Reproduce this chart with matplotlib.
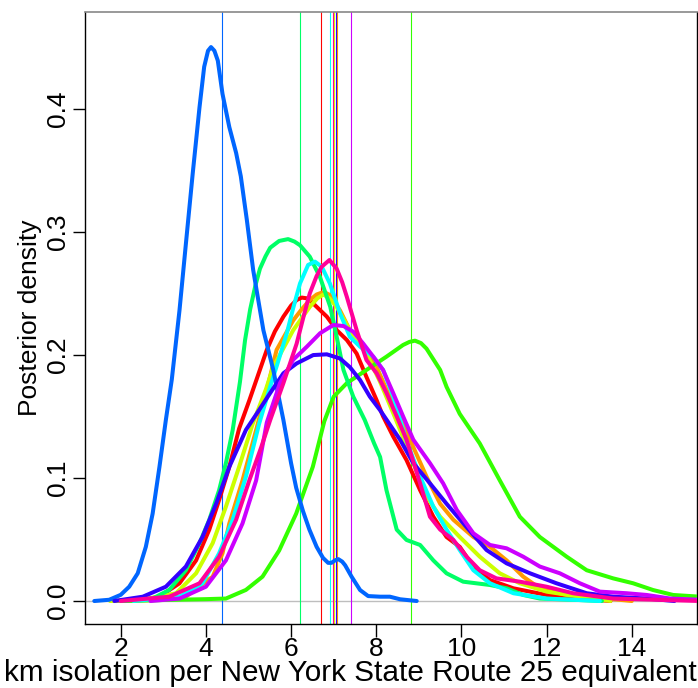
import matplotlib
matplotlib.use("Agg")
import matplotlib.pyplot as plt

plt.rcParams['font.family'] = ['Liberation Sans', 'DejaVu Sans']

# colours: R rainbow(10)
colors = ["#FF0000", "#FF9900", "#CCFF00", "#33FF00", "#00FF66",
          "#00FFFF", "#0066FF", "#3300FF", "#CC00FF", "#FF0099"]

red_x = [1.9, 2.5, 2.91, 3.38, 3.77, 4.08, 4.31, 4.55, 4.78, 5.02, 5.2, 5.43, 5.62, 5.82, 6.0, 6.13, 6.25, 6.37, 6.48, 6.60, 6.84, 7.07, 7.31, 7.54, 7.77, 8.01, 8.16, 8.40, 8.71, 9.03, 9.34, 9.65, 9.96, 10.28, 10.67, 11.22, 12.0, 12.78, 13.5]
red_y = [0.0, 0.0008, 0.0035, 0.0144, 0.033, 0.058, 0.082, 0.109, 0.140, 0.163, 0.181, 0.204, 0.219, 0.231, 0.240, 0.2445, 0.2465, 0.2459, 0.243, 0.239, 0.231, 0.2201, 0.212, 0.201, 0.182, 0.163, 0.150, 0.1335, 0.1145, 0.090, 0.0685, 0.052, 0.044, 0.028, 0.017, 0.0103, 0.0049, 0.002, 0.0]

orange_x = [1.9, 3.0, 3.53, 4.16, 4.39, 4.55, 4.86, 5.18, 5.49, 5.66, 6.05, 6.25, 6.44, 6.60, 6.72, 6.82, 6.91, 7.15, 7.38, 7.69, 8.01, 8.24, 8.56, 8.87, 9.18, 9.50, 9.81, 10.28, 10.67, 11.06, 11.45, 11.84, 12.47, 13.41, 14.0]
orange_y = [0.0, 0.001, 0.0035, 0.0198, 0.0387, 0.063, 0.098, 0.139, 0.18, 0.204, 0.228, 0.237, 0.2445, 0.249, 0.2505, 0.2502, 0.2486, 0.236, 0.220, 0.2066, 0.190, 0.172, 0.1497, 0.125, 0.101, 0.079, 0.066, 0.052, 0.044, 0.033, 0.0198, 0.0103, 0.0049, 0.002, 0.0]

yellow_x = [1.75, 2.5, 3.30, 3.77, 4.16, 4.47, 4.78, 5.10, 5.41, 5.58, 6.05, 6.44, 6.62, 6.76, 6.90, 7.07, 7.38, 7.77, 8.09, 8.40, 8.56, 8.87, 9.18, 9.50, 9.96, 10.43, 10.90, 11.37, 12.0, 12.78, 13.5]
yellow_y = [0.0, 0.001, 0.0063, 0.0225, 0.047, 0.0766, 0.109, 0.144, 0.172, 0.19, 0.22, 0.239, 0.246, 0.249, 0.246, 0.239, 0.220, 0.201, 0.178, 0.1525, 0.139, 0.112, 0.085, 0.0685, 0.052, 0.036, 0.0225, 0.0144, 0.0076, 0.0035, 0.0]

green_x = [2.1, 3.0, 4.0, 4.47, 4.94, 5.33, 5.72, 6.12, 6.51, 6.78, 7.0, 7.31, 7.77, 8.24, 8.63, 8.78, 8.91, 9.05, 9.18, 9.50, 9.65, 9.96, 10.43, 10.90, 11.37, 11.84, 12.47, 12.94, 13.56, 14.03, 14.50, 14.97, 15.6]
green_y = [0.0, 0.0008, 0.0015, 0.002, 0.009, 0.0198, 0.041, 0.071, 0.109, 0.146, 0.166, 0.177, 0.1877, 0.1985, 0.208, 0.2105, 0.2115, 0.2095, 0.205, 0.1877, 0.174, 0.152, 0.128, 0.098, 0.0685, 0.052, 0.036, 0.025, 0.0184, 0.0144, 0.0089, 0.0049, 0.0035]

spring_x = [2.0, 2.75, 3.14, 3.53, 3.85, 4.08, 4.31, 4.47, 4.63, 4.80, 4.92, 5.04, 5.16, 5.27, 5.40, 5.51, 5.72, 5.93, 6.08, 6.21, 6.44, 6.68, 6.92, 7.07, 7.23, 7.46, 7.73, 7.95, 8.09, 8.24, 8.48, 8.71, 9.03, 9.34, 9.65, 10.04, 10.67, 11.06, 11.45, 11.84, 12.78, 13.3]
spring_y = [0.0, 0.002, 0.009, 0.025, 0.047, 0.066, 0.090, 0.112, 0.139, 0.178, 0.212, 0.237, 0.256, 0.2700, 0.280, 0.287, 0.2925, 0.294, 0.292, 0.289, 0.2797, 0.263, 0.239, 0.2147, 0.1877, 0.166, 0.147, 0.128, 0.117, 0.090, 0.058, 0.0496, 0.0455, 0.033, 0.0225, 0.0157, 0.013, 0.0103, 0.0049, 0.002, 0.0008, 0.0]

cyan_x = [2.3, 3.38, 3.92, 4.31, 4.63, 4.94, 5.25, 5.49, 5.70, 5.90, 6.05, 6.21, 6.40, 6.56, 6.72, 6.91, 7.15, 7.38, 7.62, 7.93, 8.16, 8.40, 8.71, 9.03, 9.34, 9.65, 9.96, 10.28, 10.67, 11.22, 12.0, 13.25]
cyan_y = [0.0, 0.0035, 0.0144, 0.0387, 0.066, 0.101, 0.144, 0.172, 0.195, 0.2175, 0.238, 0.258, 0.273, 0.2757, 0.2716, 0.258, 0.2337, 0.2147, 0.2066, 0.1985, 0.1877, 0.166, 0.13, 0.101, 0.0766, 0.058, 0.0414, 0.025, 0.0144, 0.0063, 0.002, 0.0]

blue_x = [1.38, 1.73, 2.0, 2.20, 2.40, 2.59, 2.75, 2.91, 3.06, 3.20, 3.38, 3.53, 3.69, 3.85, 3.96, 4.05, 4.12, 4.20, 4.28, 4.39, 4.55, 4.71, 4.82, 4.96, 5.11, 5.35, 5.58, 5.82, 6.0, 6.12, 6.28, 6.43, 6.60, 6.75, 6.87, 6.95, 7.03, 7.11, 7.20, 7.27, 7.42, 7.62, 7.81, 8.09, 8.32, 8.56, 8.95]
blue_y = [0.0, 0.001, 0.005, 0.0116, 0.0225, 0.044, 0.071, 0.109, 0.147, 0.18, 0.236, 0.29, 0.347, 0.401, 0.434, 0.447, 0.450, 0.447, 0.439, 0.412, 0.385, 0.364, 0.345, 0.31, 0.269, 0.22, 0.188, 0.147, 0.112, 0.092, 0.073, 0.058, 0.044, 0.035, 0.031, 0.031, 0.033, 0.034, 0.032, 0.029, 0.0198, 0.0089, 0.004, 0.0035, 0.0035, 0.0014, 0.0]

violet_x = [1.85, 2.52, 3.06, 3.53, 3.92, 4.24, 4.55, 4.94, 5.19, 5.51, 5.82, 6.13, 6.52, 6.84, 7.15, 7.38, 7.62, 7.85, 8.09, 8.56, 8.87, 9.26, 9.65, 10.12, 10.59, 11.06, 11.61, 12.23, 12.94, 13.56, 14.35, 15.0]
violet_y = [0.0, 0.0035, 0.0116, 0.028, 0.052, 0.079, 0.109, 0.139, 0.152, 0.169, 0.185, 0.193, 0.1998, 0.2004, 0.197, 0.190, 0.1795, 0.166, 0.155, 0.131, 0.112, 0.0956, 0.079, 0.060, 0.0414, 0.0306, 0.0225, 0.0144, 0.0063, 0.0035, 0.002, 0.0]

purple_x = [2.7, 3.38, 4.0, 4.47, 4.86, 5.18, 5.43, 5.74, 6.05, 6.37, 6.68, 6.99, 7.23, 7.46, 7.69, 7.93, 8.16, 8.40, 8.63, 8.87, 9.26, 9.57, 9.89, 10.28, 10.67, 11.06, 11.45, 11.84, 12.31, 12.78, 13.25, 13.88, 14.35, 14.90, 15.6]
purple_y = [0.0, 0.002, 0.0116, 0.033, 0.063, 0.098, 0.145, 0.177, 0.196, 0.2066, 0.2175, 0.2242, 0.2234, 0.2188, 0.2093, 0.1985, 0.1877, 0.1687, 0.15, 0.131, 0.112, 0.0956, 0.074, 0.055, 0.0455, 0.0428, 0.036, 0.028, 0.0225, 0.0144, 0.0076, 0.0063, 0.0049, 0.002, 0.001]

pink_x = [2.0, 3.14, 3.85, 4.31, 4.71, 5.02, 5.30, 5.51, 5.82, 6.13, 6.30, 6.44, 6.60, 6.72, 6.90, 7.07, 7.20, 7.31, 7.54, 7.77, 8.01, 8.24, 8.48, 8.71, 9.03, 9.26, 9.50, 9.81, 10.12, 10.43, 10.82, 11.37, 12.0, 12.62, 13.56, 15.6]
pink_y = [0.0, 0.0035, 0.0144, 0.036, 0.066, 0.098, 0.125, 0.147, 0.177, 0.209, 0.232, 0.25, 0.264, 0.2716, 0.277, 0.270, 0.259, 0.247, 0.220, 0.1958, 0.185, 0.169, 0.150, 0.131, 0.0956, 0.0685, 0.058, 0.0496, 0.036, 0.025, 0.0184, 0.0157, 0.0116, 0.0063, 0.002, 0.0]

series_x = [red_x, orange_x, yellow_x, green_x, spring_x, cyan_x, blue_x, violet_x, purple_x, pink_x]
series_y = [red_y, orange_y, yellow_y, green_y, spring_y, cyan_y, blue_y, violet_y, purple_y, pink_y]

# vertical reference lines (per series)
vlines = [6.71, 7.07, 7.00, 8.81, 6.22, 6.92, 4.37, 7.05, 7.41, 6.99]

xticks = [2, 4, 6, 8, 10, 12, 14]
yticks = [0.0, 0.1, 0.2, 0.3, 0.4]
ytick_labels = ["0.0", "0.1", "0.2", "0.3", "0.4"]

W, H = 698, 688
fig = plt.figure(figsize=(W / 100, H / 100), dpi=100)
ax = fig.add_axes([85 / W, (H - 623.7) / H, (697 - 85) / W, (623.7 - 12) / H])

ax.axhline(0, color="#BEBEBE", lw=1.0, zorder=1)
for c, v in zip(colors, vlines):
    ax.axvline(v, color=c, lw=0.8, zorder=2)
for c, xs, ys in zip(colors, series_x, series_y):
    ax.plot(xs, ys, color=c, lw=2.9, solid_joinstyle="round", solid_capstyle="round", zorder=3)

ax.set_xlim(1.162, 15.53)
ax.set_ylim(-0.01844, 0.4785)
ax.set_xticks(xticks)
ax.set_xticklabels([str(t) for t in xticks])
ax.set_yticks(yticks)
ax.set_yticklabels(ytick_labels, rotation=90, va="center")
ax.tick_params(axis="both", direction="out", length=9, width=1, labelsize=19)
ax.tick_params(axis="x", pad=0.5)
ax.tick_params(axis="y", pad=1.5)
for s in ["left", "bottom", "right"]:
    ax.spines[s].set_color("black")
    ax.spines[s].set_linewidth(1)
ax.spines["top"].set_color("#888888")
ax.spines["top"].set_linewidth(1.2)

fig.text(350 / W, 1 - 681 / H, "km isolation per New York State Route 25 equivalent",
         fontsize=21.4, ha="center", va="baseline")
fig.text(30 / W, 1 - 318 / H, "Posterior density", fontsize=19,
         rotation=90, ha="center", va="center")

fig.savefig("out.png", dpi=100)
